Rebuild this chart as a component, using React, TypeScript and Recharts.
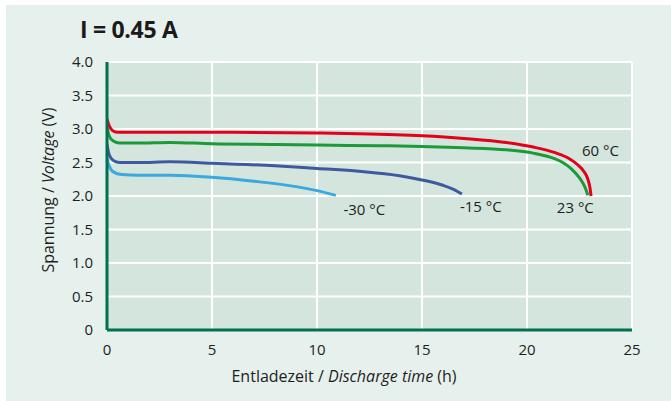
import { LineChart, Line, XAxis, YAxis, CartesianGrid, ReferenceDot } from "recharts";

// discharge curves: [hours, volts]
const t60 = [0, 0.1, 0.25, 0.5, 1, 3, 6, 10, 12, 15, 17, 19, 20.3, 21.3, 22, 22.4, 22.7, 22.9, 23.0, 23.05];
const v60 = [3.15, 3.05, 2.98, 2.95, 2.95, 2.95, 2.95, 2.94, 2.93, 2.9, 2.86, 2.8, 2.73, 2.65, 2.56, 2.47, 2.37, 2.25, 2.12, 2.0];

const t23 = [0, 0.1, 0.3, 0.6, 1.5, 3, 5, 8, 10, 13, 15, 17, 19, 20.3, 21.1, 21.7, 22.1, 22.5, 22.75, 22.9];
const v23 = [3.02, 2.9, 2.82, 2.79, 2.79, 2.8, 2.78, 2.77, 2.76, 2.75, 2.74, 2.72, 2.69, 2.64, 2.58, 2.5, 2.41, 2.27, 2.14, 2.01];

const tM15 = [0, 0.1, 0.3, 0.6, 1.5, 3, 5, 8, 10, 12, 14, 15, 16, 16.5, 16.9];
const vM15 = [2.77, 2.62, 2.53, 2.5, 2.5, 2.51, 2.49, 2.45, 2.41, 2.37, 2.3, 2.24, 2.16, 2.1, 2.03];

const tM30 = [0, 0.1, 0.3, 0.7, 1.5, 3, 5, 7, 9, 10, 10.9];
const vM30 = [2.55, 2.45, 2.36, 2.32, 2.31, 2.31, 2.28, 2.22, 2.14, 2.08, 2.01];

const xTicks = [0, 5, 10, 15, 20, 25];
const yTicks = [0, 0.5, 1, 1.5, 2, 2.5, 3, 3.5, 4];

const toRows = (t: number[], v: number[]) => t.map((h, i) => ({ h, v: v[i] }));

const series = [
  { name: "60 °C", rows: toRows(t60, v60), color: "#e3001b", lx: 23.5, ly: 2.67 },
  { name: "23 °C", rows: toRows(t23, v23), color: "#1c9a3a", lx: 22.3, ly: 1.82 },
  { name: "-15 °C", rows: toRows(tM15, vM15), color: "#3d5aa0", lx: 17.8, ly: 1.84 },
  { name: "-30 °C", rows: toRows(tM30, vM30), color: "#3aa9de", lx: 12.25, ly: 1.79 },
];

const font = "'Open Sans', 'DejaVu Sans', sans-serif";
const axisGreen = "#00704f";
const textColor = "#1e1e1e";

export default function App() {
  return (
    <div style={{ position: "absolute", left: 0, top: 0, width: 671, height: 401, background: "#ffffff", fontFamily: font }}>
      <div style={{ position: "absolute", left: 6, top: 5, width: 665, height: 396, background: "#e6f0ec" }} />
      <div style={{ position: "absolute", left: 80, top: 13, fontSize: 23, fontWeight: 700, color: "#1a1a1a", letterSpacing: -0.3 }}>
        I = 0.45 A
      </div>
      <div style={{ position: "absolute", left: 0, top: 0 }}>
        <LineChart width={671} height={401} margin={{ top: 62, right: 39, left: 47, bottom: 41 }}>
          <CartesianGrid stroke="#ffffff" strokeWidth={2} fill="#d4e5dd" />
          <XAxis
            type="number"
            dataKey="h"
            domain={[0, 25]}
            ticks={xTicks}
            allowDataOverflow
            height={30}
            tickLine={false}
            axisLine={{ stroke: axisGreen, strokeWidth: 3 }}
            tick={{ fontSize: 15, fill: textColor, fontFamily: font }}
            tickMargin={8}
            label={{
              content: () => (
                <text x={344} y={382} textAnchor="middle" fontSize={16} fill={textColor} fontFamily={font}>
                  Entladezeit / <tspan fontStyle="italic">Discharge time</tspan> (h)
                </text>
              ),
            }}
          />
          <YAxis
            type="number"
            dataKey="v"
            domain={[0, 4]}
            ticks={yTicks}
            width={60}
            tickLine={false}
            axisLine={{ stroke: axisGreen, strokeWidth: 3 }}
            tick={{ fontSize: 15, fill: textColor, fontFamily: font }}
            tickMargin={8}
            tickFormatter={(v: number) => (v === 0 ? "0" : v.toFixed(1))}
            label={{
              content: () => (
                <text
                  x={54}
                  y={190}
                  transform="rotate(-90 54 190)"
                  textAnchor="middle"
                  fontSize={16}
                  fill={textColor}
                  fontFamily={font}
                >
                  Spannung / <tspan fontStyle="italic">Voltage</tspan> (V)
                </text>
              ),
            }}
          />
          {series.map((s) => (
            <Line
              key={s.name}
              data={s.rows}
              dataKey="v"
              type="monotone"
              stroke={s.color}
              strokeWidth={3}
              dot={false}
              isAnimationActive={false}
            />
          ))}
          {series.map((s) => (
            <ReferenceDot
              key={"l" + s.name}
              x={s.lx}
              y={s.ly}
              r={0}
              fill="none"
              stroke="none"
              label={{ value: s.name, position: "center", fontSize: 15, fill: textColor, fontFamily: font }}
            />
          ))}
        </LineChart>
      </div>
    </div>
  );
}
